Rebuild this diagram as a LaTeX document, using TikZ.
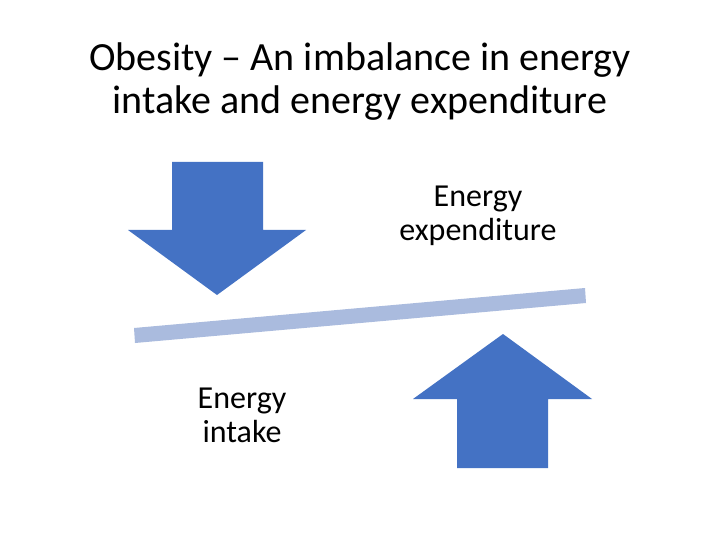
\documentclass[tikz,border=0pt]{standalone}
\usepackage{fontspec}
\setmainfont{Carlito}
\definecolor{arrowblue}{HTML}{4472C4}
\definecolor{barblue}{HTML}{AABBDE}
\begin{document}
\begin{tikzpicture}[x=1pt,y=-1pt,
  bigarrow/.style={fill=arrowblue,draw=none},
  lbl/.style={align=center,inner sep=0pt,font=\fontsize{32}{34}\selectfont}]
\useasboundingbox[fill=white] (0,0) rectangle (720,540);
\node[align=center,inner sep=0pt,font=\fontsize{40}{43}\selectfont] (title) at (360,82) {Obesity -- An imbalance in energy\\intake and energy expenditure};
\fill[bigarrow] (172,162) -- (263,162) -- (263,230) -- (306,230) -- (217,295) -- (128,230) -- (172,230) -- cycle;
\fill[bigarrow] (503,334) -- (592,399) -- (548,399) -- (548,468) -- (457,468) -- (457,399) -- (413,399) -- cycle;
\fill[barblue] (134,328) -- (585,288) -- (586,303) -- (135,343) -- cycle;
\node[lbl] (exp) at (478,216) {Energy\\expenditure};
\node[lbl] (int) at (242,415) {Energy\\intake};
\end{tikzpicture}
\end{document}
